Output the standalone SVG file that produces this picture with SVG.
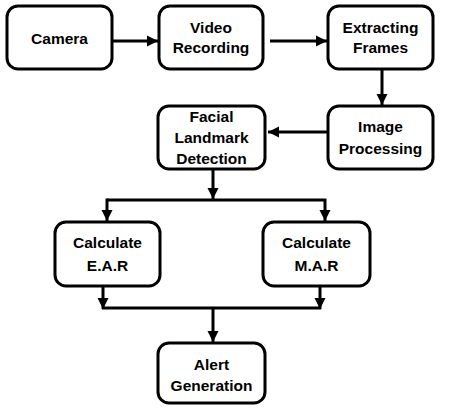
<svg xmlns="http://www.w3.org/2000/svg" width="455" height="410" viewBox="0 0 455 410">
<style>
.box{fill:#fff;stroke:#000;stroke-width:3}
.t{font-family:"Liberation Sans",Arial,sans-serif;font-weight:bold;font-size:15.5px;fill:#000;text-anchor:middle}
.c{fill:none;stroke:#000;stroke-width:3}
</style>
<defs>
<marker id="ah" markerUnits="userSpaceOnUse" markerWidth="12" markerHeight="12" viewBox="0 0 12 12" refX="11" refY="6" orient="auto">
<path d="M0,0.5 L11,6 L0,11.5 Z" fill="#000"/>
</marker>
</defs>
<rect width="455" height="410" fill="#fff"/>
<g id="connectors">
<line class="c" x1="112" y1="41" x2="158" y2="41" marker-end="url(#ah)"/>
<line class="c" x1="270" y1="41" x2="327" y2="41" marker-end="url(#ah)"/>
<line class="c" x1="382" y1="69" x2="382" y2="105" marker-end="url(#ah)"/>
<line class="c" x1="327" y1="132" x2="268" y2="132" marker-end="url(#ah)"/>
<line class="c" x1="213" y1="169" x2="213" y2="199" marker-end="url(#ah)"/>
<polyline class="c" points="107,200 325,200 325,221" marker-end="url(#ah)"/>
<line class="c" x1="107" y1="198.5" x2="107" y2="221" marker-end="url(#ah)"/>
<line class="c" x1="103" y1="286" x2="103" y2="309" marker-end="url(#ah)"/>
<line class="c" x1="320" y1="286" x2="320" y2="309" marker-end="url(#ah)"/>
<line class="c" x1="102" y1="308" x2="321" y2="308"/>
<line class="c" x1="213" y1="308" x2="213" y2="342" marker-end="url(#ah)"/>
</g>
<g id="camera"><rect class="box" x="7" y="6" width="105" height="63" rx="11"/><text class="t" x="59.5" y="44">Camera</text></g>
<g id="video-recording"><rect class="box" x="159" y="6" width="104" height="63" rx="11"/><text class="t" x="211" y="33">Video</text><text class="t" x="211" y="53">Recording</text></g>
<g id="extracting-frames"><rect class="box" x="328" y="6" width="105" height="63" rx="11"/><text class="t" x="380.5" y="33">Extracting</text><text class="t" x="380.5" y="53">Frames</text></g>
<g id="image-processing"><rect class="box" x="328" y="106" width="105" height="63" rx="11"/><text class="t" x="380.5" y="132">Image</text><text class="t" x="380.5" y="154">Processing</text></g>
<g id="facial-landmark-detection"><rect class="box" x="158" y="106" width="107" height="63" rx="11"/><text class="t" x="211.5" y="122">Facial</text><text class="t" x="211.5" y="143">Landmark</text><text class="t" x="211.5" y="164">Detection</text></g>
<g id="calculate-ear"><rect class="box" x="55" y="222" width="105" height="64" rx="11"/><text class="t" x="107.5" y="248">Calculate</text><text class="t" x="107.5" y="271">E.A.R</text></g>
<g id="calculate-mar"><rect class="box" x="263" y="222" width="107" height="64" rx="11"/><text class="t" x="316.5" y="248">Calculate</text><text class="t" x="316.5" y="271">M.A.R</text></g>
<g id="alert-generation"><rect class="box" x="158" y="343" width="107" height="60" rx="11"/><text class="t" x="211.5" y="370">Alert</text><text class="t" x="211.5" y="391">Generation</text></g>
</svg>
